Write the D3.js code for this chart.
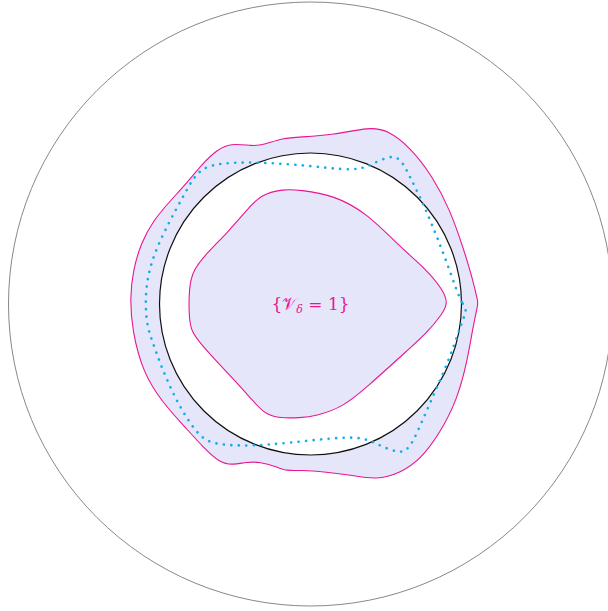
<!DOCTYPE html>
<html lang="en">
<head>
    <meta charset="utf-8">
    <title>Level set</title>
    <style>
        body { margin: 0; background: #fff; }
    </style>
</head>
<body>
    <svg width="608" height="611"></svg>
    <script src="https://cdn.jsdelivr.net/npm/d3@7"></script>
    <script>
        // curves in plane coordinates, unit circle = black circle
        const outerCurve = [
            [1.110, 0.007], [1.110, 0.007], [1.076, 0.159], [1.010, 0.377], [0.924, 0.623], [0.811, 0.841],
            [0.659, 1.040], [0.507, 1.152], [0.394, 1.172], [0.149, 1.119], [-0.070, 1.106],
            [-0.182, 1.099], [-0.315, 1.053], [-0.381, 1.046], [-0.533, 1.066], [-0.619, 1.020],
            [-0.712, 0.934], [-0.825, 0.795], [-0.930, 0.682], [-1.043, 0.550], [-1.122, 0.404],
            [-1.175, 0.225], [-1.195, 0.046], [-1.182, -0.172], [-1.109, -0.457], [-0.977, -0.656],
            [-0.825, -0.822], [-0.712, -0.947], [-0.599, -1.053], [-0.513, -1.066], [-0.421, -1.046],
            [-0.334, -1.046], [-0.222, -1.079], [-0.156, -1.106], [-0.070, -1.099], [0.109, -1.113],
            [0.262, -1.132], [0.440, -1.166], [0.593, -1.119], [0.725, -1.033], [0.858, -0.854],
            [0.970, -0.636], [1.036, -0.391], [1.076, -0.152]
        ];

        const innerCurve = [
            [0.910, 0.007], [0.877, 0.093], [0.772, 0.225], [0.593, 0.377], [0.374, 0.603],
            [0.149, 0.722], [-0.070, 0.755], [-0.182, 0.762], [-0.334, 0.722], [-0.421, 0.623],
            [-0.553, 0.470], [-0.685, 0.338], [-0.778, 0.225], [-0.805, 0.113], [-0.805, -0.106],
            [-0.785, -0.185], [-0.732, -0.258], [-0.599, -0.404], [-0.487, -0.523], [-0.381, -0.642],
            [-0.308, -0.722], [-0.222, -0.755], [-0.070, -0.755], [0.043, -0.740], [0.215, -0.682],
            [0.374, -0.550], [0.593, -0.351], [0.772, -0.192], [0.877, -0.060]
        ];

        const dottedCurve = [
            [1.036, -0.040], [1.003, 0.007], [0.964, 0.099], [0.904, 0.272], [0.838, 0.444],
            [0.772, 0.603], [0.725, 0.709], [0.659, 0.841], [0.613, 0.934], [0.560, 0.987],
            [0.460, 0.954], [0.374, 0.907], [0.281, 0.887], [0.109, 0.901], [-0.070, 0.921],
            [-0.354, 0.940], [-0.599, 0.934], [-0.712, 0.901], [-0.778, 0.834], [-0.844, 0.709],
            [-0.930, 0.556], [-1.017, 0.377], [-1.076, 0.205], [-1.096, 0.026], [-1.083, -0.152],
            [-1.043, -0.258], [-0.997, -0.391], [-0.930, -0.550], [-0.864, -0.682], [-0.798, -0.788],
            [-0.712, -0.901], [-0.599, -0.934], [-0.381, -0.940], [-0.156, -0.921], [0.149, -0.887],
            [0.328, -0.881], [0.414, -0.914], [0.480, -0.947], [0.573, -0.980], [0.613, -0.980],
            [0.659, -0.947], [0.705, -0.854], [0.772, -0.702], [0.838, -0.550], [0.924, -0.351],
            [0.983, -0.179], [1.016, -0.086]
        ];

        const unitRadius = 1;
        const bigRadius = 2;
        const label = "{𝒱";

        const magenta = "#e8168f";
        const lavender = "#e6e6fa";
        const cyan = "#12aee6";

        const svg = d3.select("svg");
        const cx = 310.5, cy = 304, r = 151;

        const x = d3.scaleLinear().domain([-2, 2]).range([cx - 2 * r, cx + 2 * r]);
        const y = d3.scaleLinear().domain([-2, 2]).range([cy + 2 * r, cy - 2 * r]);

        const smooth = d3.line()
            .x(d => x(d[0]))
            .y(d => y(d[1]))
            .curve(d3.curveBasisClosed);

        const rad = v => x(v) - x(0);

        // outer circle
        svg.append("circle")
            .attr("cx", x(0)).attr("cy", y(0)).attr("r", rad(bigRadius))
            .attr("fill", "none").attr("stroke", "#888").attr("stroke-width", 1);

        // shaded region: outer curve minus disc, plus inner curve
        svg.append("path")
            .attr("d", smooth(outerCurve))
            .attr("fill", lavender);

        svg.append("circle")
            .attr("cx", x(0)).attr("cy", y(0)).attr("r", rad(unitRadius))
            .attr("fill", "#fff");

        svg.append("path")
            .attr("d", smooth(innerCurve))
            .attr("fill", lavender);

        svg.append("path")
            .attr("d", smooth(outerCurve))
            .attr("fill", "none").attr("stroke", magenta).attr("stroke-width", 1.1);

        svg.append("path")
            .attr("d", smooth(innerCurve))
            .attr("fill", "none").attr("stroke", magenta).attr("stroke-width", 1.1);

        svg.append("circle")
            .attr("cx", x(0)).attr("cy", y(0)).attr("r", rad(unitRadius))
            .attr("fill", "none").attr("stroke", "#111").attr("stroke-width", 1.2);

        svg.append("path")
            .attr("d", smooth(dottedCurve))
            .attr("fill", "none").attr("stroke", cyan)
            .attr("stroke-width", 2.6)
            .attr("stroke-linecap", "round")
            .attr("stroke-dasharray", "0.1 7.4");

        const t = svg.append("text")
            .attr("x", x(0)).attr("y", y(0) + 6)
            .attr("text-anchor", "middle")
            .attr("fill", magenta)
            .style("font-family", "'DejaVu Serif', 'Liberation Serif', serif")
            .style("font-size", "17px");
        t.append("tspan").text(label);
        t.append("tspan").attr("font-size", "11px").attr("dy", 3).attr("font-style", "italic").text("δ");
        t.append("tspan").attr("dy", -3).text(" = 1}");
    </script>
</body>
</html>
